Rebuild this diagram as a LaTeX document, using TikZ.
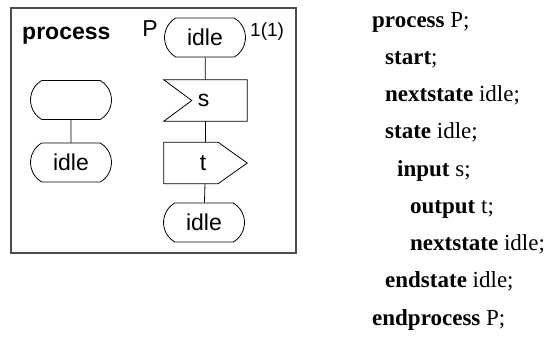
\documentclass[tikz,border=0pt]{standalone}
\usepackage{fontspec}
\setmainfont{Liberation Serif}
\newfontfamily\diagfont{Liberation Sans}
\usetikzlibrary{shapes.misc,calc}

\tikzset{
  frameline/.style={draw=black!70, line width=1.4pt},
  sym/.style={line width=0.8pt},
  statebox/.style={sym, draw, rounded rectangle, rounded rectangle arc length=120,
    minimum width=81pt, minimum height=39pt, inner sep=0pt,
    font=\diagfont\fontsize{23}{25}\selectfont},
  sigbox/.style={minimum width=83pt, minimum height=41pt, inner sep=0pt,
    font=\diagfont\fontsize{23}{25}\selectfont},
  difftext/.style={font=\diagfont\fontsize{23}{25}\selectfont, inner sep=0pt},
  pagetext/.style={font=\diagfont\fontsize{19}{21}\selectfont, inner sep=0pt},
  code/.style={anchor=base west, inner sep=0pt, font=\fontsize{23}{25}\selectfont},
  link/.style={sym}
}

\begin{document}
\begin{tikzpicture}[x=1pt, y=-1pt]
\useasboundingbox (0,0) rectangle (556,349);

% diagram frame with heading
\draw[frameline] (11,8) rectangle (296,253);
\node[difftext, anchor=base west] (kw) at (22,39) {\bfseries process};
\node[difftext, anchor=base east] (pname) at (158,36) {P};
\node[pagetext, anchor=base west] (page) at (250,36) {1(1)};

% start branch
\node[statebox] (start) at (71,100) {};
\node[statebox] (idleA) at (71,162.5) {idle};
\draw[link] (start) -- (idleA);

% state branch
\node[statebox] (idleB) at (205,37.5) {idle};
\node[sigbox] (inp) at (205.5,100.5) {\hspace*{-4pt}s};
\node[sigbox] (outp) at (205.5,163) {\hspace*{-5pt}t};
\node[statebox] (idleC) at (204,222.5) {idle};

% input symbol: notched on the left
\draw[sym] (inp.north west) -- (inp.north east) -- (inp.south east)
  -- (inp.south west) -- ($(inp.west)+(28,0)$) -- cycle;
% output symbol: pointed on the right
\draw[sym] (outp.north west) -- ($(outp.north east)+(-29,0)$) -- (outp.east)
  -- ($(outp.south east)+(-29,0)$) -- (outp.south west) -- cycle;

\draw[link] (idleB) -- (inp);
\draw[link] (inp) -- (outp);
\draw[link] (outp) -- (idleC);

% textual form
\node[code] (l1) at (372,27) {\textbf{process} P;};
\node[code] (l2) at (385,64) {\textbf{start};};
\node[code] (l3) at (385,101) {\textbf{nextstate} idle;};
\node[code] (l4) at (385,138) {\textbf{state} idle;};
\node[code] (l5) at (397,176) {\textbf{input} s;};
\node[code] (l6) at (410,213) {\textbf{output} t;};
\node[code] (l7) at (410,250) {\textbf{nextstate} idle;};
\node[code] (l8) at (385,287) {\textbf{endstate} idle;};
\node[code] (l9) at (372,325) {\textbf{endprocess} P;};
\end{tikzpicture}
\end{document}
